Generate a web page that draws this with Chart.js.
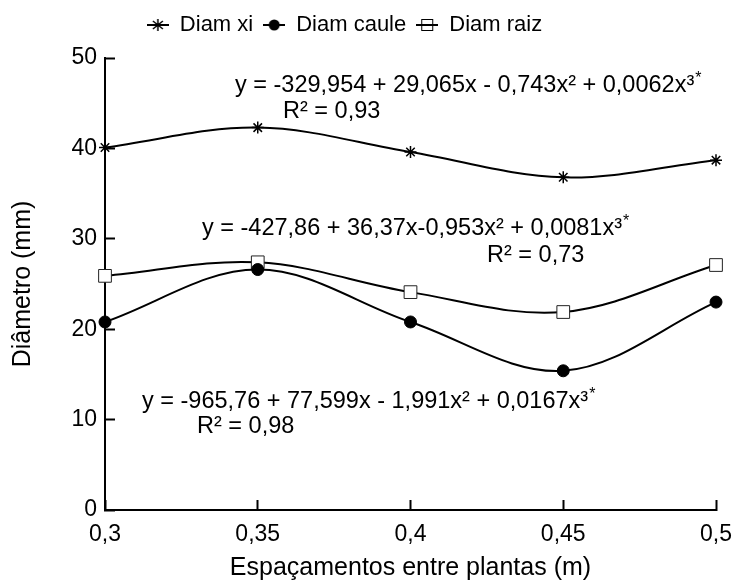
<!DOCTYPE html>
<html>
<head>
<meta charset="utf-8">
<script src="https://cdn.jsdelivr.net/npm/chart.js@4.4.0/dist/chart.umd.min.js"></script>
<style>
    html, body { margin: 0; padding: 0; background: #fff; }
</style>
</head>
<body>
<canvas id="myChart" width="734" height="583"></canvas>
<script>
const espacamentos = [0.3, 0.35, 0.4, 0.45, 0.5];
const diamXi = [40.1, 42.3, 39.6, 36.8, 38.7];
const diamCaule = [20.8, 26.6, 20.8, 15.4, 23.0];
const diamRaiz = [25.9, 27.4, 24.1, 21.9, 27.1];
const xTicks = [0.3, 0.35, 0.4, 0.45, 0.5];
const yTicks = [0, 10, 20, 30, 40, 50];
const equacoes = [
    "y = -329,954 + 29,065x - 0,743x² + 0,0062x³",
    "y = -427,86 + 36,37x-0,953x² + 0,0081x³",
    "y = -965,76 + 77,599x - 1,991x² + 0,0167x³",
];
const r2 = ["R² = 0,93", "R² = 0,73", "R² = 0,98"];

const fonte = '"Liberation Sans", Arial, sans-serif';

function iconeLegenda(tipo) {
    const c = document.createElement("canvas");
    c.width = 22;
    c.height = 16;
    const g = c.getContext("2d");
    g.strokeStyle = "#000";
    g.fillStyle = "#000";
    g.lineWidth = 2;
    if (tipo === "star") {
        g.beginPath(); g.moveTo(0, 8); g.lineTo(22, 8); g.stroke();
        g.lineWidth = 1.5;
        g.beginPath();
        g.moveTo(11, 2); g.lineTo(11, 14);
        g.moveTo(6, 4); g.lineTo(16, 12);
        g.moveTo(16, 4); g.lineTo(6, 12);
        g.stroke();
    } else if (tipo === "circle") {
        g.beginPath(); g.moveTo(0, 8); g.lineTo(22, 8); g.stroke();
        g.beginPath(); g.arc(11, 8, 5.5, 0, Math.PI * 2); g.fill();
    } else {
        g.fillStyle = "#fff";
        g.lineWidth = 1;
        g.fillRect(5.5, 2.5, 11, 11);
        g.strokeRect(5.5, 2.5, 11, 11);
        g.lineWidth = 2;
        g.beginPath(); g.moveTo(0, 8); g.lineTo(22, 8); g.stroke();
    }
    return c;
}
const icones = [iconeLegenda("star"), iconeLegenda("circle"), iconeLegenda("rect")];

function pontos(valores) {
    return espacamentos.map((x, i) => ({ x: x, y: valores[i] }));
}

// text of the regression equations, placed in pixels
const posEquacoes = [
    { x: 235, y: 86, rx: 283, ry: 112 },
    { x: 202, y: 229, rx: 487, ry: 256 },
    { x: 142, y: 402, rx: 197, ry: 427 },
];

const equacoesPlugin = {
    id: "equacoes",
    beforeDraw(chart) {
        // pull the legend up and a bit left, like the original figure
        chart.legend.top -= 12;
        chart.legend.bottom -= 12;
        chart.legend.right -= 45;
    },
    afterDatasetsDraw(chart) {
        const ctx = chart.ctx;
        ctx.save();
        ctx.fillStyle = "#000";
        ctx.textBaseline = "middle";
        ctx.textAlign = "left";
        equacoes.forEach((eq, i) => {
            const p = posEquacoes[i];
            ctx.font = "23.5px " + fonte;
            ctx.fillText(eq, p.x, p.y);
            const w = ctx.measureText(eq).width;
            ctx.fillText(r2[i], p.rx, p.ry);
            ctx.font = "16px " + fonte;
            ctx.fillText("*", p.x + w + 1, p.y - 7);
        });
        ctx.restore();
    },
};

const ctx = document.getElementById("myChart");
new Chart(ctx, {
    type: "line",
    data: {
        datasets: [
            {
                label: "Diam xi",
                data: pontos(diamXi),
                borderColor: "#000",
                borderWidth: 2,
                tension: 0.35,
                pointStyle: "star",
                pointRadius: 6,
                pointBorderColor: "#000",
                pointBorderWidth: 1.5,
                pointBackgroundColor: "#000",
                clip: false,
            },
            {
                label: "Diam caule",
                data: pontos(diamCaule),
                borderColor: "#000",
                borderWidth: 2,
                tension: 0.35,
                pointStyle: "circle",
                pointRadius: 6,
                pointBorderColor: "#000",
                pointBorderWidth: 1,
                pointBackgroundColor: "#000",
                clip: false,
            },
            {
                label: "Diam raiz",
                data: pontos(diamRaiz),
                borderColor: "#000",
                borderWidth: 2,
                tension: 0.35,
                pointStyle: "rect",
                pointRadius: 9,
                pointBorderColor: "#222",
                pointBorderWidth: 1,
                pointBackgroundColor: "#fff",
                clip: false,
            },
        ],
    },
    options: {
        responsive: false,
        animation: false,
        layout: { padding: { top: 16, left: 0, right: 0, bottom: 0 } },
        plugins: {
            tooltip: { enabled: false },
            legend: {
                position: "top",
                labels: {
                    usePointStyle: true,
                    pointStyleWidth: 22,
                    padding: 10,
                    color: "#000",
                    font: { size: 22, family: fonte },
                    generateLabels: function (chart) {
                        return chart.data.datasets.map((ds, i) => ({
                            text: ds.label,
                            pointStyle: icones[i],
                            fontColor: "#000",
                            fillStyle: "transparent",
                            strokeStyle: "transparent",
                            lineWidth: 0,
                            hidden: false,
                            datasetIndex: i,
                        }));
                    },
                },
            },
        },
        scales: {
            x: {
                type: "linear",
                min: 0.3,
                max: 0.5,
                afterBuildTicks: function (scale) {
                    scale.ticks = xTicks.map((v) => ({ value: v }));
                },
                afterFit: function (scale) {
                    scale.height = 73;
                    // only keep room for half of the last label
                    scale.paddingLeft = 0;
                    scale.paddingRight = 18;
                },
                ticks: {
                    color: "#000",
                    padding: 21,
                    maxRotation: 0,
                    font: { size: 23, family: fonte },
                    callback: (v) => String(v).replace(".", ","),
                },
                grid: {
                    drawOnChartArea: false,
                    tickLength: -10,
                    tickWidth: 2,
                    tickColor: "#000",
                },
                border: { color: "#000", width: 2 },
                title: {
                    display: true,
                    text: "Espaçamentos entre plantas (m)",
                    color: "#000",
                    font: { size: 25, family: fonte },
                    padding: { top: 0, bottom: 0 },
                },
            },
            y: {
                min: 0,
                max: 50,
                afterBuildTicks: function (scale) {
                    scale.ticks = yTicks.map((v) => ({ value: v }));
                },
                afterFit: function (scale) {
                    scale.width = 105;
                },
                ticks: {
                    color: "#000",
                    padding: 18,
                    font: { size: 23, family: fonte },
                },
                grid: {
                    drawOnChartArea: false,
                    tickLength: -10,
                    tickWidth: 2,
                    tickColor: "#000",
                },
                border: { color: "#000", width: 2 },
                title: {
                    display: true,
                    text: "Diâmetro (mm)",
                    color: "#000",
                    font: { size: 25, family: fonte },
                    padding: { top: 8, bottom: 0 },
                },
            },
        },
    },
    plugins: [equacoesPlugin],
});
</script>
</body>
</html>
